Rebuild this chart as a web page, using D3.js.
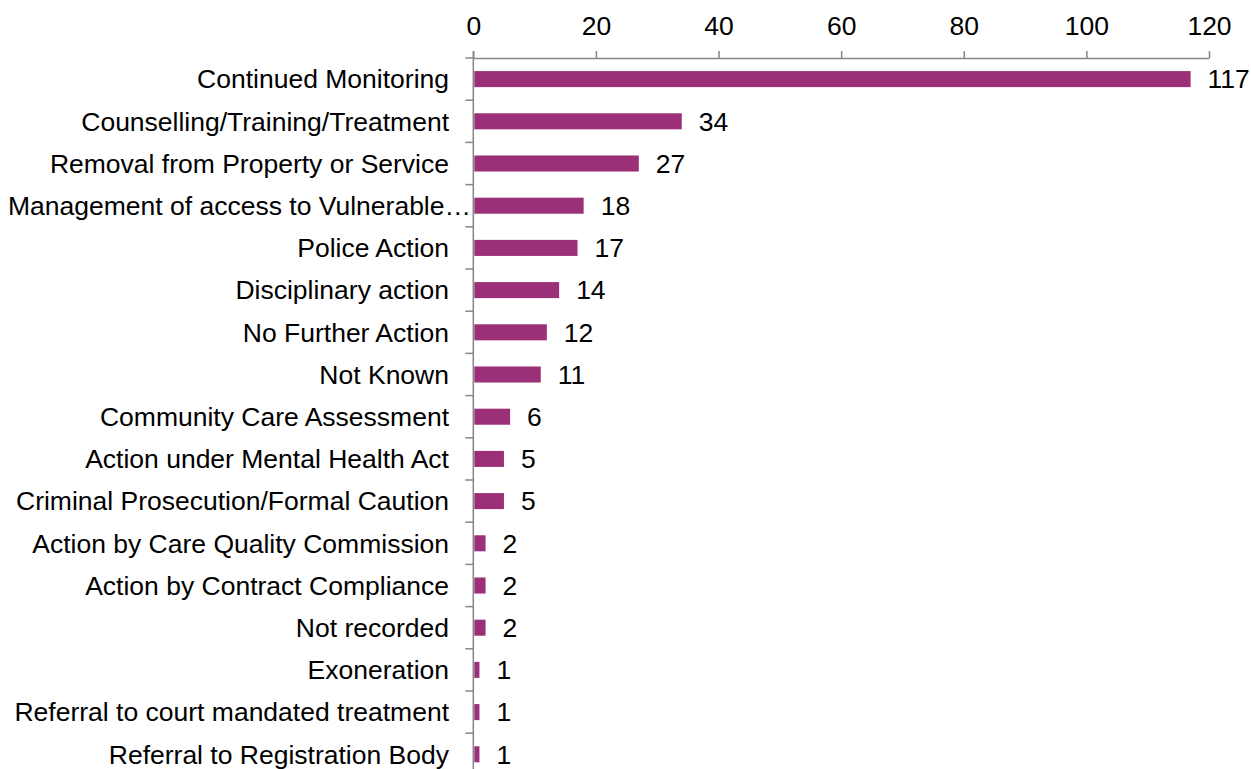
<!DOCTYPE html>
<html>
<head>
<meta charset="utf-8">
<script src="https://cdn.jsdelivr.net/npm/d3@7"></script>
<style>
  html, body { margin: 0; padding: 0; background: #fff; }
  svg { display: block; }
  text { font-family: "Liberation Sans", Arial, sans-serif; fill: #000; }
</style>
</head>
<body>
<svg id="chart" width="1251" height="769"></svg>
<script>
// Outcomes of safeguarding enquiries (counts)
const categories = [
  "Continued Monitoring",
  "Counselling/Training/Treatment",
  "Removal from Property or Service",
  "Management of access to Vulnerable…",
  "Police Action",
  "Disciplinary action",
  "No Further Action",
  "Not Known",
  "Community Care Assessment",
  "Action under Mental Health Act",
  "Criminal Prosecution/Formal Caution",
  "Action by Care Quality Commission",
  "Action by Contract Compliance",
  "Not recorded",
  "Exoneration",
  "Referral to court mandated treatment",
  "Referral to Registration Body"
];
const counts = [117, 34, 27, 18, 17, 14, 12, 11, 6, 5, 5, 2, 2, 2, 1, 1, 1];
const xTicks = [0, 20, 40, 60, 80, 100, 120];

const svg = d3.select("#chart");
const plotLeft = 473.3, plotRight = 1209, plotTop = 58, bandStep = 42.2;
const fontSize = 26.5;
const axisColor = "#868686";
const barColor = "#9C3078";

const x = d3.scaleLinear().domain([0, 120]).range([plotLeft, plotRight]);
const y = d3.scaleBand()
  .domain(categories)
  .range([plotTop, plotTop + bandStep * categories.length])
  .paddingInner(0.62).paddingOuter(0.31);

// top value axis
const xAxis = svg.append("g")
  .attr("transform", `translate(0,${plotTop})`)
  .call(d3.axisTop(x).tickValues(xTicks).tickSize(7).tickPadding(16).tickSizeOuter(0));
xAxis.select(".domain").attr("stroke", axisColor).attr("stroke-width", 1.5);
xAxis.selectAll(".tick line").attr("stroke", axisColor).attr("stroke-width", 1.5);
xAxis.selectAll(".tick text").attr("font-size", fontSize).attr("fill", "#000")
  .attr("font-family", "Liberation Sans, Arial, sans-serif");

// category axis line with ticks at band boundaries
const yAxisG = svg.append("g");
yAxisG.append("line")
  .attr("x1", plotLeft).attr("x2", plotLeft)
  .attr("y1", plotTop - 7).attr("y2", 769)
  .attr("stroke", axisColor).attr("stroke-width", 1.5);
d3.range(categories.length + 1).forEach(i => {
  const yy = plotTop + i * bandStep;
  yAxisG.append("line")
    .attr("x1", plotLeft - 8).attr("x2", plotLeft)
    .attr("y1", yy).attr("y2", yy)
    .attr("stroke", axisColor).attr("stroke-width", 1.5);
});

// category labels (a truncated label runs on up to the axis line)
svg.append("g").selectAll("text")
  .data(categories)
  .join("text")
  .attr("x", d => d.endsWith("…") ? 471 : 449)
  .attr("y", d => y(d) + y.bandwidth() / 2)
  .attr("dy", "0.35em")
  .attr("text-anchor", "end")
  .attr("font-size", fontSize)
  .text(d => d);

// bars
svg.append("g").selectAll("rect")
  .data(counts)
  .join("rect")
  .attr("x", x(0) + 1)
  .attr("y", (d, i) => y(categories[i]))
  .attr("width", d => x(d) - x(0) - 1)
  .attr("height", y.bandwidth())
  .attr("fill", barColor);

// value labels
svg.append("g").selectAll("text")
  .data(counts)
  .join("text")
  .attr("x", d => x(d) + 17)
  .attr("y", (d, i) => y(categories[i]) + y.bandwidth() / 2)
  .attr("dy", "0.35em")
  .attr("font-size", fontSize)
  .text(d => d);
</script>
</body>
</html>
